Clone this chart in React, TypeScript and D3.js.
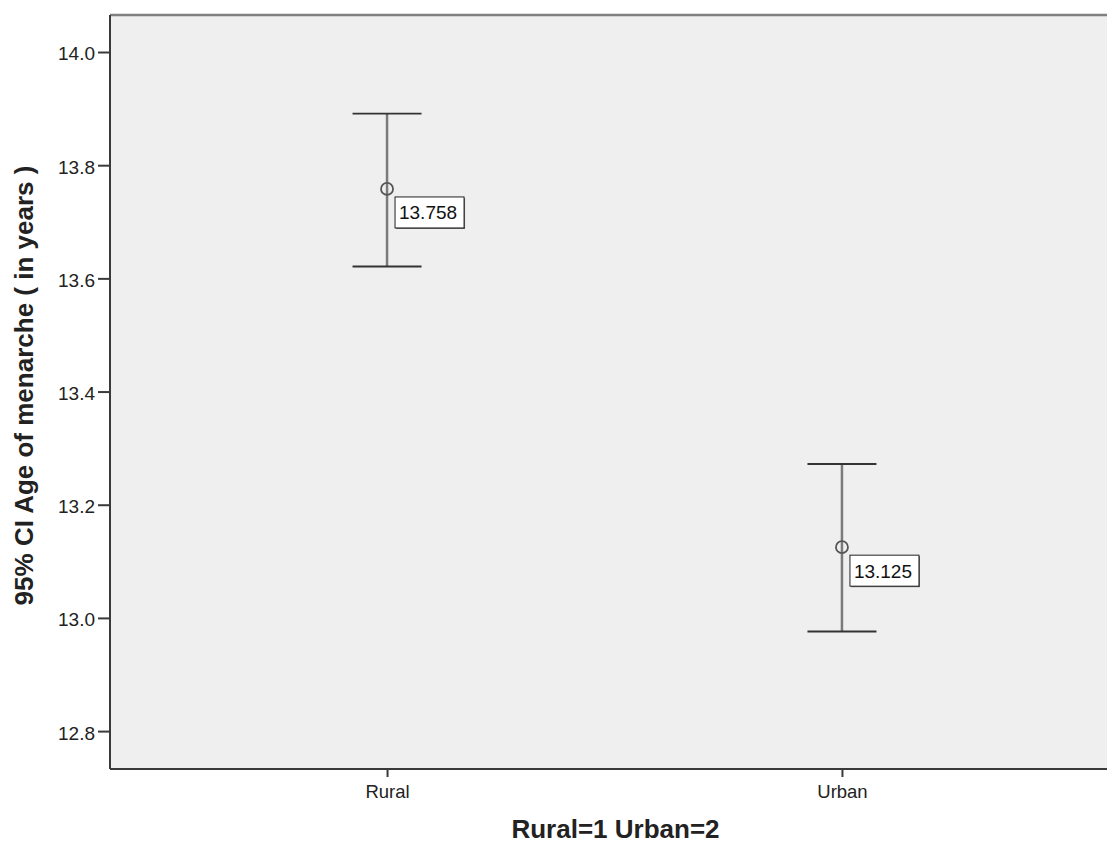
import React, { useEffect, useRef } from "react";
import * as d3 from "d3";

// group means with 95% CI bounds
const groups = ["Rural", "Urban"];
const means = [13.758, 13.125];
const lower = [13.621, 12.976];
const upper = [13.891, 13.272];
const yTicks = [12.8, 13.0, 13.2, 13.4, 13.6, 13.8, 14.0];

const W = 1107;
const H = 845;

const drawChart = (el: SVGSVGElement) => {
    const svg = d3.select(el);
    svg.selectAll("*").remove();

    const left = 110;
    const right = 1119; // right frame sits just outside the window
    const top = 15;
    const bottom = 769;

    const x = d3.scalePoint().domain(groups).range([left, right]).padding(0.609);
    const y = d3.scaleLinear().domain([12.733, 14.0654]).range([bottom, top]);

    const font = "'Liberation Sans', Arial, sans-serif";

    svg.append("rect")
        .attr("x", left)
        .attr("y", top)
        .attr("width", right - left)
        .attr("height", bottom - top)
        .attr("fill", "#efefef");

    // frame
    svg.append("line").attr("x1", left).attr("x2", right).attr("y1", top).attr("y2", top)
        .attr("stroke", "#808080").attr("stroke-width", 2.5);
    svg.append("line").attr("x1", left).attr("x2", right).attr("y1", bottom).attr("y2", bottom)
        .attr("stroke", "#3a3a3a").attr("stroke-width", 2);
    svg.append("line").attr("x1", left).attr("x2", left).attr("y1", top).attr("y2", bottom)
        .attr("stroke", "#3a3a3a").attr("stroke-width", 2);

    // y axis
    const yAxis = svg.append("g").attr("transform", `translate(${left},0)`)
        .call(d3.axisLeft(y).tickValues(yTicks).tickFormat(d3.format(".1f")).tickSize(12).tickPadding(3));
    yAxis.select(".domain").remove();
    yAxis.selectAll("line").attr("stroke", "#3a3a3a").attr("stroke-width", 2);
    yAxis.selectAll("text").attr("fill", "#222").attr("dy", "0.42em")
        .style("font-family", font).style("font-size", "19px");

    // x axis
    const xAxis = svg.append("g").attr("transform", `translate(0,${bottom})`)
        .call(d3.axisBottom(x).tickSize(8).tickPadding(8));
    xAxis.select(".domain").remove();
    xAxis.selectAll("line").attr("stroke", "#3a3a3a").attr("stroke-width", 2);
    xAxis.selectAll("text").attr("fill", "#222").style("font-family", font).style("font-size", "18.5px");

    // axis titles
    svg.append("text")
        .attr("transform", `translate(33,${385.5}) rotate(-90)`)
        .attr("text-anchor", "middle")
        .style("font-family", font).style("font-size", "26px").style("font-weight", "bold")
        .attr("fill", "#222")
        .text("95% CI Age of menarche ( in years )");
    svg.append("text")
        .attr("x", 615.5)
        .attr("y", 838)
        .attr("text-anchor", "middle")
        .style("font-family", font).style("font-size", "26px").style("font-weight", "bold")
        .attr("fill", "#222")
        .text("Rural=1 Urban=2");

    const capHalf = 34.5;
    groups.forEach((g, i) => {
        const cx = x(g) as number;
        const gEl = svg.append("g");
        gEl.append("line").attr("x1", cx).attr("x2", cx).attr("y1", y(upper[i])).attr("y2", y(lower[i]))
            .attr("stroke", "#7a7a7a").attr("stroke-width", 2.5);
        [upper[i], lower[i]].forEach((v) => {
            gEl.append("line").attr("x1", cx - capHalf).attr("x2", cx + capHalf).attr("y1", y(v)).attr("y2", y(v))
                .attr("stroke", "#333").attr("stroke-width", 1.8);
        });
        gEl.append("circle").attr("cx", cx).attr("cy", y(means[i])).attr("r", 6)
            .attr("fill", "none").attr("stroke", "#555").attr("stroke-width", 1.8);

        // value label box
        const bx = cx + 8;
        const by = y(means[i]) + 8;
        gEl.append("rect").attr("x", bx + 1).attr("y", by + 1).attr("width", 69).attr("height", 31)
            .attr("fill", "#666");
        gEl.append("rect").attr("x", bx).attr("y", by).attr("width", 69).attr("height", 31)
            .attr("fill", "#fff").attr("stroke", "#222").attr("stroke-width", 1);
        gEl.append("text").attr("x", bx + 33).attr("y", by + 22.5).attr("text-anchor", "middle")
            .style("font-family", font).style("font-size", "19px").attr("fill", "#111")
            .text(d3.format(".3f")(means[i]));
    });
};

export default function App() {
    const ref = useRef<SVGSVGElement>(null);
    useEffect(() => {
        if (ref.current) drawChart(ref.current);
    }, []);
    return (
        <svg ref={ref} width={W} height={H}
            style={{ position: "absolute", left: 0, top: 0, background: "#fff" }} />
    );
}
